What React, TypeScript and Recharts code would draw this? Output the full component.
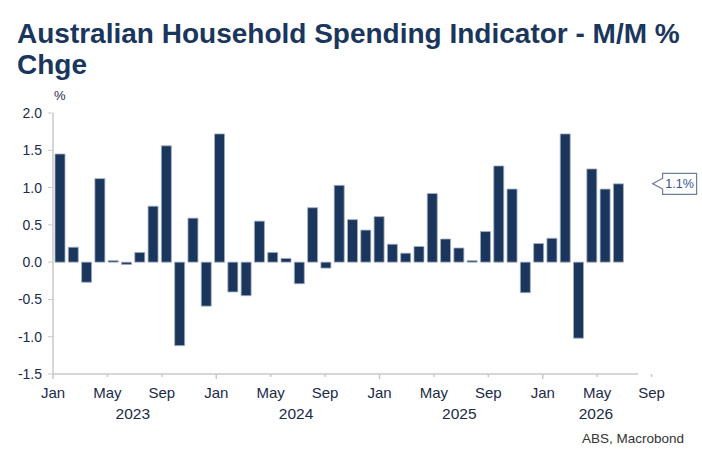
import React from "react";
import { BarChart, Bar, XAxis, YAxis, ReferenceDot } from "recharts";

const monthNames = ["Jan", "Feb", "Mar", "Apr", "May", "Jun", "Jul", "Aug", "Sep", "Oct", "Nov", "Dec"];
const firstYear = 2023;

// Monthly % change
const values2023 = [1.45, 0.2, -0.27, 1.12, 0.02, -0.03, 0.13, 0.75, 1.56, -1.12, 0.59, -0.59];
const values2024 = [1.72, -0.4, -0.45, 0.55, 0.13, 0.05, -0.29, 0.73, -0.08, 1.03, 0.57, 0.43];
const values2025 = [0.61, 0.24, 0.12, 0.21, 0.92, 0.31, 0.19, 0.02, 0.41, 1.29, 0.98, -0.41];
const values2026 = [0.25, 0.32, 1.72, -1.02, 1.25, 0.98, 1.05];

const yTicks = [-1.5, -1.0, -0.5, 0.0, 0.5, 1.0, 1.5, 2.0];
const xTicks = [0, 4, 8, 12, 16, 20, 24, 28, 32, 36, 40, 44];
const monthCount = 44; // Jan 2023 .. Aug 2026 (last slot empty)

const W = 702;
const H = 469;
const M = { top: 113, right: 64, bottom: 35, left: 0 };
const Y_WIDTH = 53;
const PX_PER_MONTH = (W - M.left - M.right - Y_WIDTH) / monthCount;

const NAVY = "#1b365d";
const TEXT = "#1b2a4a";
const AXIS = "#c8c8c8";

const allValues = [...values2023, ...values2024, ...values2025, ...values2026];
const data = Array.from({ length: monthCount }, (_, i) => ({
  label: `${monthNames[i % 12]} ${firstYear + Math.floor(i / 12)}`,
  value: i < allValues.length ? allValues[i] : null,
}));
const latest = allValues[allValues.length - 1];

function MonthTick(props: any) {
  const { x, y, payload } = props;
  const v: number = payload.value;
  const isJan = v % 12 === 0;
  const showYear = isJan && v < monthCount;
  const yearEnd = Math.min(v + 12, monthCount);
  const yearMid = x + ((yearEnd - v) / 2) * PX_PER_MONTH;
  return (
    <g>
      <line x1={x} x2={x} y1={y} y2={y + (isJan ? 5 : 3)} stroke={AXIS} strokeWidth={1.5} />
      <text x={x} y={y + 24} textAnchor="middle" fill={TEXT} fontSize={15}>
        {monthNames[v % 12]}
      </text>
      {showYear && (
        <text x={yearMid} y={y + 45} textAnchor="middle" fill={TEXT} fontSize={15.5}>
          {firstYear + Math.floor(v / 12)}
        </text>
      )}
    </g>
  );
}

function Callout(props: any) {
  const { cx, cy } = props;
  const tip = cx + 1;
  const left = cx + 11;
  const w = 34;
  const h = 21;
  const top = cy - 10.5;
  const d = `M${left},${cy - 5.5} L${tip},${cy} L${left},${cy + 5} L${left},${top + h} L${left + w},${top + h} L${left + w},${top} L${left},${top} Z`;
  return (
    <g>
      <path d={d} fill="#ffffff" stroke="#6d7f9c" strokeWidth={1.2} />
      <text x={left + w / 2} y={cy + 4.5} textAnchor="middle" fill="#2f5597" fontSize={12.5}>
        {`${latest.toFixed(1)}%`}
      </text>
    </g>
  );
}

export default function App() {
  return (
    <div
      style={{
        position: "absolute",
        left: 0,
        top: 0,
        width: W,
        height: H,
        background: "#ffffff",
        fontFamily: "'Liberation Sans', Arial, sans-serif",
      }}
    >
      <div
        style={{
          position: "absolute",
          left: 17,
          top: 18,
          fontSize: 28,
          lineHeight: "31px",
          fontWeight: 700,
          color: NAVY,
          whiteSpace: "nowrap",
        }}
      >
        Australian Household Spending Indicator - M/M %
        <br />
        Chge
      </div>
      <div style={{ position: "absolute", left: 54, top: 88, fontSize: 13, color: TEXT }}>%</div>
      <BarChart width={W} height={H} data={data} margin={M} style={{ position: "absolute", left: 0, top: 0 }}>
        <XAxis xAxisId="c" dataKey="label" hide height={0} />
        <XAxis
          xAxisId="t"
          type="number"
          domain={[0, monthCount]}
          ticks={xTicks}
          interval={0}
          height={60}
          axisLine={{ stroke: AXIS, strokeWidth: 1.5 }}
          tickLine={false}
          tickSize={0}
          tickMargin={0}
          tick={<MonthTick />}
        />
        <YAxis
          type="number"
          domain={[-1.5, 2]}
          ticks={yTicks}
          width={Y_WIDTH}
          interval={0}
          axisLine={{ stroke: AXIS, strokeWidth: 1.5 }}
          tickLine={{ stroke: AXIS }}
          tickSize={5}
          tickMargin={6}
          tick={{ fill: TEXT, fontSize: 14 }}
          tickFormatter={(v: number) => v.toFixed(1)}
        />
        <Bar
          xAxisId="c"
          dataKey="value"
          fill={NAVY}
          stroke="#a3b0c2"
          strokeWidth={0.8}
          barSize={10}
          isAnimationActive={false}
        />
        <ReferenceDot xAxisId="t" x={monthCount} y={latest} r={0} ifOverflow="visible" shape={Callout} />
      </BarChart>
      <div
        style={{
          position: "absolute",
          right: W - 684,
          top: 431,
          fontSize: 13.5,
          color: "#333333",
        }}
      >
        ABS, Macrobond
      </div>
    </div>
  );
}
